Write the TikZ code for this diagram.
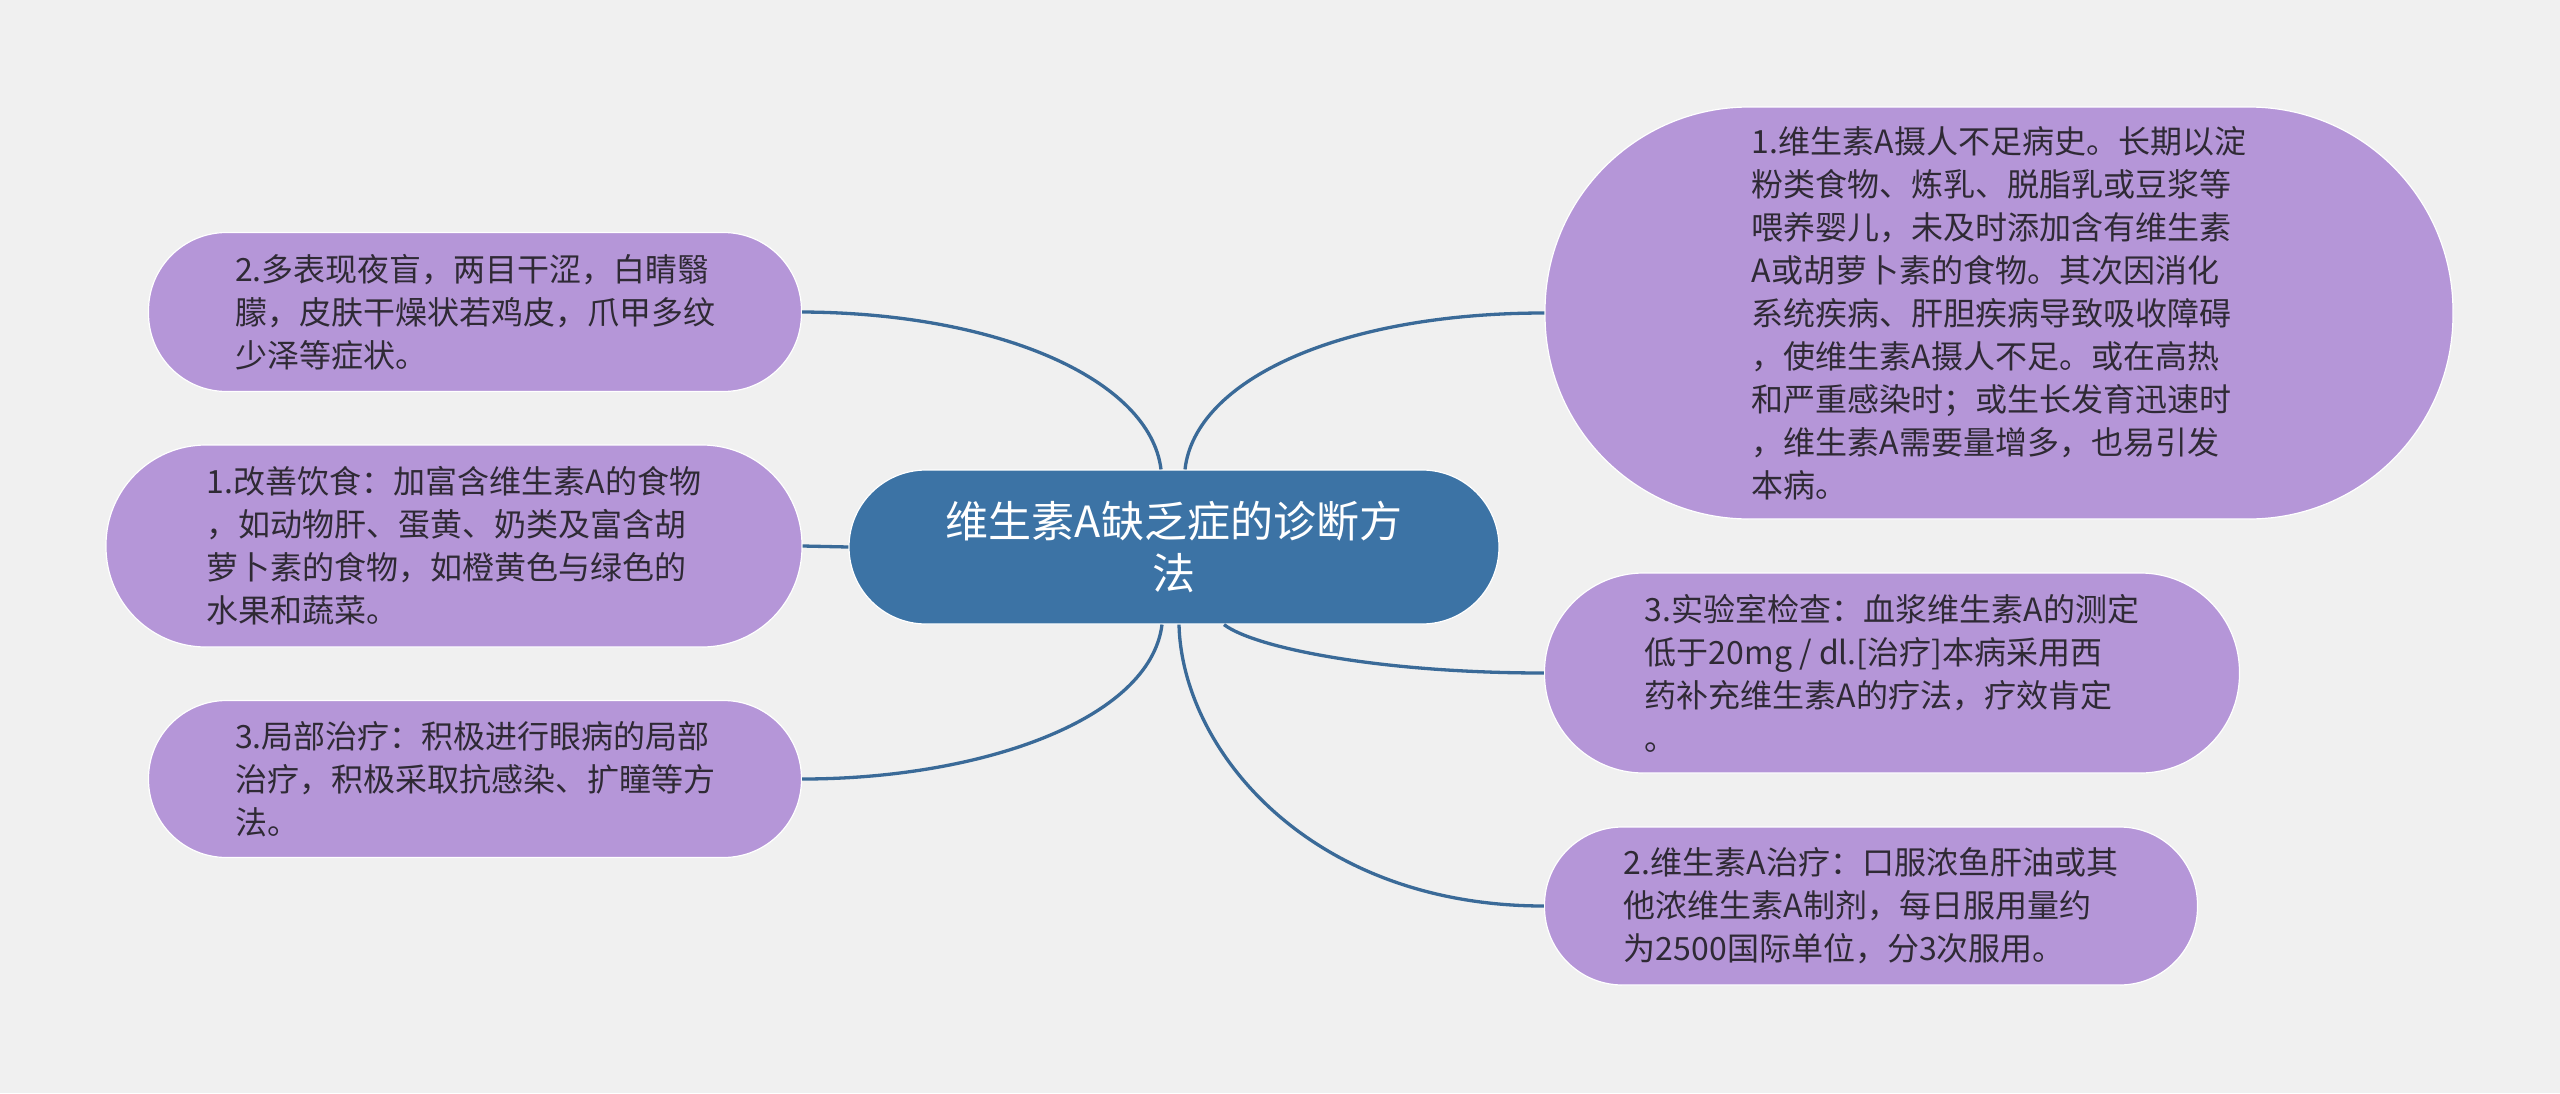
\documentclass[tikz,border=0pt]{standalone}
\usepackage{fontspec}
\setmainfont{Noto Sans CJK SC}
\definecolor{bgc}{HTML}{F0F0F0}
\definecolor{leafc}{HTML}{B596D8}
\definecolor{rootc}{HTML}{3C73A5}
\definecolor{linec}{HTML}{3A6A98}
\definecolor{txtc}{HTML}{2F2A35}
\tikzset{
  leaf/.style={draw=white, line width=1.2pt, fill=leafc, text=txtc, align=left,
    inner sep=0pt, font=\fontsize{32}{43}\selectfont},
  root/.style={draw=white, line width=1.2pt, fill=rootc, text=white, align=center,
    inner sep=0pt, font=\fontsize{43}{52}\selectfont},
  conn/.style={draw=linec, line width=3.3pt}
}
\begin{document}
\begin{tikzpicture}[x=1pt,y=-1pt]
\useasboundingbox (0,0) rectangle (2560,1093);
\fill[bgc] (0,0) rectangle (2560,1093);

\node[root, minimum width=650pt, minimum height=154pt, rounded corners=77pt] (c) at (1174,547)
  {维生素A缺乏症的诊断方\\法};

\node[leaf, minimum width=908pt, minimum height=412pt, rounded corners=204pt] (rt) at (1999,313)
  {1.维生素A摄人不足病史。长期以淀\\粉类食物、炼乳、脱脂乳或豆浆等\\喂养婴儿，未及时添加含有维生素\\A或胡萝卜素的食物。其次因消化\\系统疾病、肝胆疾病导致吸收障碍\\，使维生素A摄人不足。或在高热\\和严重感染时；或生长发育迅速时\\，维生素A需要量增多，也易引发\\本病。};

\node[leaf, minimum width=695pt, minimum height=200pt, rounded corners=99pt] (rm) at (1892,673)
  {3.实验室检查：血浆维生素A的测定\\低于20mg / dl.[治疗]本病采用西\\药补充维生素A的疗法，疗效肯定\\。};

\node[leaf, minimum width=653pt, minimum height=158pt, rounded corners=78pt] (rb) at (1871,906)
  {2.维生素A治疗：口服浓鱼肝油或其\\他浓维生素A制剂，每日服用量约\\为2500国际单位，分3次服用。};

\node[leaf, minimum width=653pt, minimum height=159pt, rounded corners=78pt] (lt) at (475,312)
  {2.多表现夜盲，两目干涩，白睛翳\\朦，皮肤干燥状若鸡皮，爪甲多纹\\少泽等症状。};

\node[leaf, minimum width=696pt, minimum height=202pt, rounded corners=100pt] (lm) at (454,546)
  {1.改善饮食：加富含维生素A的食物\\，如动物肝、蛋黄、奶类及富含胡\\萝卜素的食物，如橙黄色与绿色的\\水果和蔬菜。};

\node[leaf, minimum width=653pt, minimum height=157pt, rounded corners=78pt] (lb) at (475,779)
  {3.局部治疗：积极进行眼病的局部\\治疗，积极采取抗感染、扩瞳等方\\法。};

\draw[conn] ([xshift=-13pt]c.north) .. controls (1150,380) and (1000,313) .. (lt.east);
\draw[conn] ([xshift=11pt]c.north) .. controls (1195,380) and (1340,313) .. (rt.west);
\draw[conn] (c.west) -- (lm.east);
\draw[conn] ([xshift=-12pt]c.south) .. controls (1150,720) and (980,779) .. (lb.east);
\draw[conn] ([xshift=50pt]c.south) .. controls (1255,648) and (1380,673) .. (rm.west);
\draw[conn] ([xshift=5pt]c.south) .. controls (1182,750) and (1310,906) .. (rb.west);
\end{tikzpicture}
\end{document}
